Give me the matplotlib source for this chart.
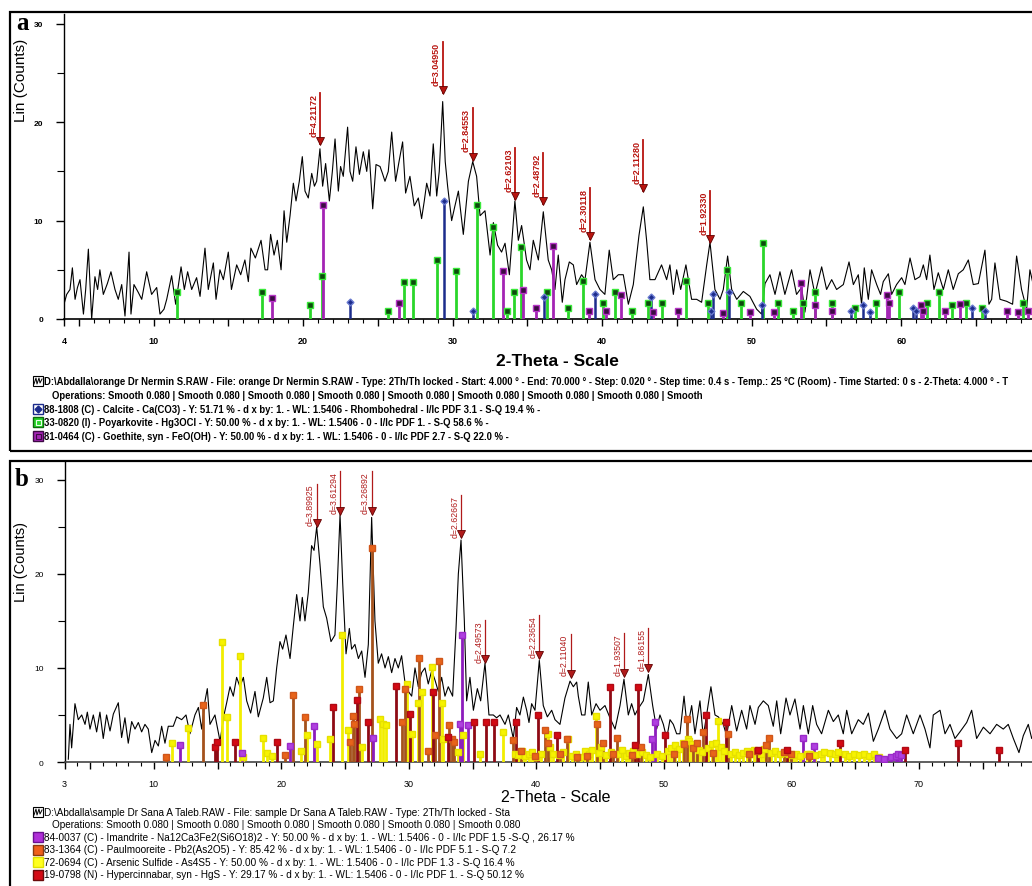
import matplotlib
matplotlib.use("Agg")
import matplotlib.pyplot as plt
from matplotlib.patches import Rectangle
from matplotlib.lines import Line2D
from matplotlib.ticker import FixedLocator, FixedFormatter, MultipleLocator

W, H = 1032, 887
plt.rcParams["font.family"] = ["Liberation Sans", "DejaVu Sans"]

# === panel a: measured pattern ===
a_tt = [4.0, 4.18, 4.4, 4.56, 4.74, 4.9, 5.07, 5.3, 5.45, 5.63, 5.85, 6.07, 6.25, 6.4, 6.63,
        6.9, 7.14, 7.41, 7.63, 7.86, 8.08, 8.35, 8.48, 8.68, 8.97, 9.2, 9.53, 9.86, 10.2, 10.42,
        10.69, 10.87, 11.2, 11.47, 11.83, 12.05, 12.27, 12.54, 12.87, 13.1, 13.43, 13.65, 13.99,
        14.17, 14.43, 14.66, 14.99, 15.2, 15.55, 15.82, 16.1, 16.33, 16.5, 16.8, 17.18, 17.45,
        17.62, 17.82, 18.05, 18.27, 18.52, 18.72, 18.9, 19.12, 19.34, 19.52, 19.74, 19.94, 20.12,
        20.34, 20.57, 20.75, 20.9, 21.12, 21.3, 21.5, 21.75, 21.95, 22.13, 22.35, 22.5, 22.68,
        22.97, 23.13, 23.31, 23.53, 23.76, 24.02, 24.25, 24.4, 24.65, 24.87, 25.14, 25.3, 25.47,
        25.69, 25.92, 26.18, 26.41, 26.65, 26.85, 27.14, 27.43, 27.7, 27.92, 28.1, 28.26, 28.48,
        28.7, 28.93, 29.1, 29.33, 29.5, 29.66, 29.93, 30.15, 30.38, 30.71, 31.05, 31.34, 31.6,
        31.83, 32.16, 32.5, 32.72, 33.0, 33.27, 33.5, 33.79, 34.16, 34.39, 34.61, 34.94, 35.17,
        35.39, 35.73, 36.06, 36.39, 36.62, 36.84, 37.06, 37.33, 37.51, 37.8, 38.07, 38.29, 38.62,
        38.85, 39.18, 39.52, 39.85, 40.18, 40.47, 40.74, 41.08, 41.41, 41.75, 42.08, 42.46, 42.75,
        42.97, 43.19, 43.53, 43.97, 44.31, 44.53, 44.76, 44.98, 45.25, 45.6, 45.98, 46.32, 46.65,
        46.99, 47.21, 47.54, 47.88, 48.1, 48.39, 48.66, 49.0, 49.44, 49.88, 50.33, 50.66, 50.89,
        51.22, 51.56, 51.89, 52.22, 52.67, 53.0, 53.34, 53.56, 53.9, 54.23, 54.68, 55.01, 55.35,
        55.68, 56.13, 56.51, 56.8, 57.13, 57.35, 57.53, 57.8, 58.02, 58.36, 58.62, 58.8, 59.14,
        59.36, 59.69, 60.03, 60.25, 60.59, 60.92, 61.25, 61.48, 61.7, 61.92, 62.19, 62.48, 62.82,
        63.15, 63.48, 63.82, 64.15, 64.49, 64.82, 65.16, 65.6, 65.87, 66.05, 66.27, 66.61, 67.05,
        67.45, 67.72, 68.05, 68.39, 68.61, 68.9]
a_counts = [1.5, 2.5, 3.0, 5.2, 2.0, 3.2, 4.0, 0.5, 3.0, 7.1, 0.0, 4.3, 3.0, 5.0, 2.5,
            3.6, 4.8, 3.0, 2.0, 3.5, 0.3, 6.8, 0.5, 3.5, 2.7, 2.0, 4.8, 2.5, 3.2, 0.5,
            1.0, 2.0, 4.4, 1.5, 5.3, 3.0, 4.8, 3.0, 4.2, 2.3, 7.2, 3.0, 5.7,
            2.0, 5.0, 4.0, 6.8, 3.0, 5.5, 4.5, 6.0, 3.8, 7.2, 6.2, 8.0, 5.0,
            5.0, 8.6, 6.5, 8.0, 5.0, 11.0, 7.8, 10.5, 13.8, 12.0, 14.0, 16.5, 13.0,
            12.3, 14.8, 13.5, 14.0, 17.3, 13.5, 15.8, 12.0, 15.0, 18.3, 13.0, 15.5, 14.5,
            19.5, 15.0, 14.0, 17.5, 14.7, 17.0, 15.0, 17.2, 11.2, 15.7, 15.5, 14.8, 14.0,
            15.0, 19.0, 14.0, 16.0, 18.0, 12.8, 14.5, 11.5, 12.3, 10.2, 12.0, 13.8, 12.5,
            17.8, 12.5, 15.0, 22.1, 16.0, 13.5, 10.0, 11.5, 13.0, 8.6, 14.0, 16.0, 14.5,
            10.5, 11.0, 6.5, 9.8, 7.5, 6.8, 7.7, 4.5, 12.0, 8.0, 9.5, 6.0, 5.0,
            8.0, 6.0, 10.9, 6.0, 5.0, 3.0, 6.5, 1.7, 4.0, 5.8, 5.5, 3.5, 4.5,
            4.0, 7.8, 4.0, 3.0, 2.5, 7.0, 4.0, 4.5, 4.5, 1.5, 3.5, 8.5, 11.4,
            8.0, 4.0, 4.0, 5.5, 4.0, 5.5, 2.5, 5.0, 3.0, 5.5, 2.0, 2.0, 1.7,
            5.5, 7.8, 3.0, 2.0, 3.0, 6.4, 3.0, 2.0, 2.8, 2.3, 1.0, 0.5, 3.6,
            4.5, 2.5, 4.8, 2.5, 5.0, 2.5, 3.2, 0.7, 5.0, 2.5, 5.3, 3.0, 4.0,
            3.0, 3.5, 5.8, 3.5, 4.5, 1.5, 5.2, 2.0, 5.0, 3.5, 2.5, 3.8, 4.6,
            2.5, 3.5, 4.2, 3.5, 6.2, 4.0, 4.3, 5.5, 4.0, 6.5, 3.0, 4.7, 3.0,
            5.0, 3.0, 4.6, 5.0, 6.0, 3.5, 3.6, 7.0, 1.5, 2.0, 5.7, 2.0, 1.8,
            1.5, 6.4, 3.0, 1.0, 5.0, 3.0]

# === panel a: reference sticks ===
calcite_tt = [23.13, 29.44, 31.38, 36.13, 39.52, 43.26, 47.27, 47.43, 48.48, 50.66, 56.64,
              57.46, 57.91, 60.76, 60.99, 64.76, 65.6]
calcite_h = [1.7, 12.0, 0.8, 2.2, 2.5, 2.2, 0.85, 2.5, 2.7, 1.4, 0.85,
             1.4, 0.7, 1.1, 0.85, 1.1, 0.85]
poyark_tt = [11.54, 17.22, 20.45, 21.24, 25.65, 26.74, 27.37, 28.93, 30.22, 31.65, 32.72,
             33.61, 34.12, 34.54, 36.28, 37.73, 38.74, 40.03, 40.85, 42.01, 43.08, 44.02,
             45.58, 47.1, 48.32, 49.26, 50.78, 51.78, 52.78, 53.45, 54.23, 55.35, 56.91,
             58.29, 59.87, 61.75, 62.53, 63.42, 64.33, 65.38, 68.17]
poyark_h = [2.7, 2.7, 1.4, 4.4, 0.85, 3.8, 3.8, 6.0, 4.9, 11.6, 9.4,
            0.85, 2.7, 7.3, 2.7, 1.1, 3.9, 1.6, 2.7, 0.85, 1.6, 1.6,
            3.9, 1.6, 5.0, 1.6, 7.7, 1.6, 0.8, 1.6, 2.7, 1.6, 1.1,
            1.6, 2.7, 1.6, 2.7, 1.4, 1.6, 1.1, 1.6]
goeth_tt = [17.89, 21.35, 26.41, 33.34, 34.72, 35.57, 36.68, 39.14, 40.23, 41.25, 43.37,
            45.09, 48.05, 49.88, 51.51, 53.3, 54.23, 55.35, 59.02, 59.18, 61.3, 61.48,
            62.93, 63.93, 67.1, 67.83, 68.5]
goeth_h = [2.1, 11.6, 1.6, 4.9, 2.9, 1.1, 7.4, 0.8, 0.85, 2.4, 0.7,
           0.8, 0.6, 0.7, 0.7, 3.7, 1.4, 0.8, 2.4, 1.6, 1.4, 0.85,
           0.8, 1.5, 0.85, 0.7, 0.85]

# === panel a: peak labels ===
a_pk_tt = [21.12, 29.33, 31.34, 34.16, 36.06, 39.18, 42.75, 47.21]
a_pk_tip = [17.8, 23.0, 16.2, 12.2, 11.7, 8.1, 13.0, 7.8]
a_pk_lab = ["d=4.21172", "d=3.04950", "d=2.84553", "d=2.62103", "d=2.48792",
            "d=2.30118", "d=2.11280", "d=1.92330"]

# === panel b: measured pattern ===
b_tt = [3.3, 3.43, 3.56, 3.82, 4.08, 4.35, 4.61, 4.79, 5.0, 5.26, 5.52, 5.78, 6.04, 6.3,
        6.57, 6.83, 7.22, 7.48, 7.74, 8.0, 8.27, 8.53, 8.79, 9.05, 9.31, 9.57, 9.84, 10.1,
        10.36, 10.62, 10.88, 11.14, 11.53, 11.8, 12.19, 12.53, 12.84, 13.23, 13.5, 13.76,
        14.02, 14.2, 14.41, 14.8, 15.2, 15.51, 15.72, 15.98, 16.24, 16.5, 16.76, 17.03,
        17.29, 17.6, 17.94, 18.2, 18.59, 18.86, 19.12, 19.38, 19.64, 19.9, 20.11, 20.37,
        20.69, 20.95, 21.21, 21.47, 21.65, 21.86, 22.12, 22.38, 22.57, 22.78, 23.04, 23.3,
        23.56, 23.9, 24.21, 24.4, 24.61, 24.82, 25.08, 25.34, 25.52, 25.78, 26.05, 26.31,
        26.57, 26.83, 27.09, 27.35, 27.61, 27.87, 28.14, 28.4, 28.66, 28.92, 29.18, 29.44,
        29.7, 29.97, 30.23, 30.49, 30.75, 31.01, 31.27, 31.53, 31.8, 32.06, 32.32, 32.58,
        32.84, 33.1, 33.44, 33.7, 33.89, 34.1, 34.36, 34.54, 34.8, 35.07, 35.38, 35.64,
        35.98, 36.29, 36.63, 36.89, 37.16, 37.55, 37.81, 38.2, 38.46, 38.72, 38.99, 39.25,
        39.43, 39.64, 39.9, 40.24, 40.55, 40.87, 41.21, 41.47, 41.86, 42.25, 42.65, 42.91,
        43.17, 43.3, 43.56, 43.82, 44.08, 44.35, 44.69, 45.0, 45.39, 45.78, 46.18, 46.57,
        46.88, 47.22, 47.48, 47.74, 48.01, 48.4, 48.79, 49.13, 49.44, 49.7, 49.97, 50.23,
        50.49, 50.75, 51.01, 51.27, 51.59, 51.85, 52.19, 52.45, 52.84, 53.1, 53.36, 53.7,
        54.02, 54.28, 54.67, 54.93, 55.33, 55.72, 56.11, 56.5, 56.76, 57.16, 57.42, 57.81,
        58.2, 58.59, 58.86, 59.17, 59.59, 59.9, 60.29, 60.69, 60.95, 61.34, 61.68, 61.99,
        62.38, 62.91, 63.3, 63.69, 64.08, 64.35, 64.74, 65.26, 65.65, 66.05, 66.44, 66.83,
        67.35, 67.74, 68.27, 68.66, 69.05, 69.57, 70.1, 70.49, 70.88, 71.14, 71.67, 72.06,
        72.45, 72.84, 73.23, 73.76, 74.15, 74.54, 75.07, 75.59, 76.11, 76.63, 77.02, 77.42,
        77.86, 78.2, 78.59, 78.86, 79.2]
b_counts = [0.3, 4.0, 1.5, 6.2, 4.5, 5.0, 4.0, 5.3, 3.5, 5.0, 3.2, 5.3, 2.5, 5.0,
            3.3, 5.1, 6.3, 2.6, 4.7, 2.0, 4.3, 3.5, 4.2, 3.2, 4.0, 3.5, 1.0, 2.3,
            1.7, 3.8, 2.0, 3.8, 3.8, 4.8, 4.5, 5.0, 3.0, 5.0, 5.8, 3.5,
            6.5, 7.8, 4.0, 5.0, 2.2, 5.0, 6.3, 8.0, 7.0, 9.0, 8.0, 9.0,
            6.5, 5.2, 7.5, 4.8, 6.8, 9.0, 6.3, 6.5, 10.0, 12.8, 12.0, 13.5,
            11.0, 14.5, 17.8, 15.0, 17.5, 15.0, 18.0, 23.0, 22.5, 25.0, 21.0, 16.5,
            15.3, 12.8, 13.5, 19.0, 26.3, 19.0, 11.5, 14.2, 12.0, 12.5, 11.0, 11.8,
            9.0, 12.5, 26.0, 15.0, 10.5, 11.5, 10.0, 11.2, 9.5, 11.0, 10.0, 11.3,
            8.5, 7.5, 7.0, 10.0, 8.0, 9.5, 10.0, 8.3, 9.7, 8.7, 7.5, 9.0,
            7.0, 8.0, 7.0, 14.0, 20.0, 23.6, 15.0, 6.5, 9.0, 5.5, 7.8, 6.5,
            10.5, 5.0, 5.0, 4.7, 5.0, 4.0, 5.0, 2.5, 5.8, 5.0, 6.9, 5.5,
            4.2, 6.2, 5.5, 10.8, 6.0, 4.8, 5.5, 4.5, 4.0, 6.8, 8.6, 8.0,
            8.5, 7.0, 5.0, 5.0, 8.5, 5.0, 6.2, 5.5, 6.0, 4.7, 3.5, 6.0,
            8.8, 5.0, 6.2, 5.0, 5.7, 6.5, 9.3, 6.0, 3.5, 5.0, 4.0, 2.5,
            4.5, 4.0, 3.0, 3.0, 7.0, 3.5, 6.0, 3.0, 6.5, 2.7, 5.0, 8.0,
            5.0, 4.8, 4.0, 2.8, 6.0, 3.3, 5.5, 3.5, 6.0, 4.0, 5.8, 6.5,
            6.0, 3.8, 6.5, 3.0, 6.8, 5.0, 6.7, 3.5, 6.0, 3.0, 6.0, 4.0,
            3.0, 5.5, 4.3, 5.0, 3.0, 5.5, 3.0, 4.5, 4.0, 5.2, 2.2, 3.5,
            5.5, 3.5, 2.5, 3.0, 5.0, 3.0, 5.0, 3.5, 1.5, 5.0, 5.5, 3.0,
            4.0, 2.5, 3.2, 4.2, 5.5, 2.5, 3.7, 3.0, 4.0, 3.5, 4.0, 2.5,
            1.0, 2.8, 4.0, 2.5, 3.5]

# === panel b: reference sticks ===
imand_tt = [12.06, 16.95, 20.69, 22.59, 27.22, 34.02, 34.2, 34.67, 49.05, 49.31, 60.89,
            61.81, 66.8, 67.3, 67.8, 68.2, 68.4, 68.6]
imand_h = [1.8, 1.0, 1.7, 3.8, 2.6, 4.0, 13.5, 3.9, 2.4, 4.3, 2.5,
           1.7, 0.4, 0.3, 0.5, 0.6, 0.8, 0.7]
paul_tt = [10.96, 13.84, 20.29, 20.95, 21.86, 25.39, 25.6, 25.73, 26.12, 27.09, 29.44,
           29.7, 30.83, 31.53, 32.06, 32.4, 33.18, 33.37, 33.55, 38.15, 38.8, 39.9, 40.69,
           40.9, 41.9, 42.45, 43.2, 44.0, 44.79, 45.26, 46.0, 46.3, 47.5, 48.2, 50.8, 51.6,
           51.8, 52.3, 52.6, 53.1, 53.9, 55.06, 56.7, 57.3, 58.0, 58.28, 59.4, 60.0, 61.4]
paul_h = [0.5, 6.1, 0.7, 7.1, 4.8, 2.1, 4.9, 4.0, 7.8, 22.7, 4.3,
          7.8, 11.1, 1.2, 2.9, 10.7, 3.9, 2.4, 2.1, 2.3, 1.2, 0.6, 3.4,
          2.0, 0.8, 2.4, 0.5, 0.6, 4.0, 2.0, 0.9, 2.5, 0.7, 1.6, 0.9, 1.9,
          4.6, 1.5, 2.0, 3.2, 1.0, 3.0, 0.9, 1.2, 1.8, 2.5, 1.1, 0.8, 0.6]
arsen_tt = [11.4, 12.71, 15.33, 15.72, 16.76, 17.0, 18.54, 18.86, 19.3, 21.52, 21.99,
            22.78, 23.82, 24.74, 25.26, 26.31, 27.74, 28.0, 28.21, 29.89, 30.28, 30.75,
            31.01, 31.8, 32.58, 32.71, 33.84, 34.28, 35.59, 37.37,
            38.3, 38.6, 38.9, 39.1, 39.4, 39.7, 40.0, 40.4, 40.95, 41.1, 41.3, 41.8, 42.1,
            42.52, 42.8, 43.1, 43.5, 43.8, 44.1, 44.4, 44.69, 44.9, 45.1, 45.5, 45.9, 46.4,
            46.7, 47.0, 47.3, 47.6, 47.9, 48.3, 48.6, 48.9, 49.5, 49.9, 50.3, 50.6, 50.9,
            51.2, 51.5, 51.93, 52.0, 52.2, 52.5, 52.8, 53.0, 53.5, 53.8, 54.1, 54.28, 54.5,
            54.7, 55.3, 55.6, 55.9, 56.2, 56.5, 56.8, 57.1, 57.6, 57.9, 58.4, 58.7, 59.1,
            59.4, 59.8, 60.1, 60.4, 60.7, 61.2, 61.5, 61.9, 62.3, 62.6, 63.0, 63.4, 63.7,
            64.2, 64.5, 64.9, 65.3, 65.7, 66.1, 66.5, 66.9]
arsen_h = [2.0, 3.6, 12.8, 4.8, 11.3, 0.5, 2.6, 1.0, 0.6, 1.2, 2.9,
           1.9, 2.4, 13.5, 3.4, 1.6, 4.6, 4.0, 3.9, 8.3, 3.0, 6.3,
           7.4, 10.1, 6.3, 2.4, 1.1, 2.9, 0.85, 3.2,
           0.9, 0.7, 1.2, 0.6, 0.8, 1.1, 0.5, 0.9, 3.0, 1.6, 0.8, 0.7, 1.1,
           2.4, 0.6, 0.9, 0.5, 1.2, 0.8, 1.3, 4.9, 1.0, 1.6, 0.7, 1.1, 0.9,
           1.3, 0.6, 1.0, 1.2, 0.8, 1.1, 0.7, 0.5, 0.8, 0.6, 1.2, 1.5, 1.8,
           1.4, 2.0, 2.4, 2.2, 1.9, 1.6, 1.3, 1.1, 1.5, 1.9, 2.0, 4.4, 1.6,
           1.2, 0.9, 1.1, 0.7, 1.0, 1.2, 0.8, 1.3, 0.9, 1.4, 1.0, 1.2, 0.8,
           1.0, 0.9, 0.7, 0.9, 0.6, 0.8, 0.9, 0.7, 0.9, 1.1, 1.0, 0.8, 1.1,
           0.8, 0.6, 0.9, 0.7, 0.8, 0.6, 0.8, 0.5]
hyper_tt = [14.8, 14.96, 16.37, 19.64, 24.08, 25.91, 26.83, 28.99, 30.1, 31.93, 33.1,
            35.12, 36.06, 36.71, 38.41, 40.16, 41.6, 45.78, 47.74, 48.0, 50.1, 53.31,
            54.88, 57.42, 59.64, 63.82, 68.92, 73.1, 76.32]
hyper_h = [1.6, 2.1, 2.1, 2.1, 5.8, 6.6, 4.3, 8.1, 5.1, 7.4, 2.7,
           4.3, 4.3, 4.3, 4.3, 5.0, 2.9, 8.0, 1.8, 8.0, 2.9, 5.0,
           4.3, 1.3, 1.3, 2.0, 1.3, 2.0, 1.3]

# === panel b: peak labels ===
b_pk_tt = [22.78, 24.61, 27.09, 34.1, 35.98, 40.24, 42.7, 46.88, 48.79]
b_pk_tip = [25.1, 26.4, 26.4, 23.9, 10.6, 11.1, 9.1, 9.2, 9.7]
b_pk_lab = ["d=3.89925", "d=3.61294", "d=3.26892", "d=2.62667", "d=2.49573",
            "d=2.23654", "d=2.11040", "d=1.93507", "d=1.86155"]

a_legend = [
    "D:\\Abdalla\\orange Dr Nermin S.RAW - File: orange Dr Nermin S.RAW - Type: 2Th/Th locked - Start: 4.000 ° - End: 70.000 ° - Step: 0.020 ° - Step time: 0.4 s - Temp.: 25 °C (Room) - Time Started: 0 s - 2-Theta: 4.000 ° - T",
    "Operations: Smooth 0.080 | Smooth 0.080 | Smooth 0.080 | Smooth 0.080 | Smooth 0.080 | Smooth 0.080 | Smooth 0.080 | Smooth 0.080 | Smooth",
    "88-1808 (C) - Calcite - Ca(CO3) - Y: 51.71 % - d x by: 1. - WL: 1.5406 - Rhombohedral - I/Ic PDF 3.1 - S-Q 19.4 % -",
    "33-0820 (I) - Poyarkovite - Hg3OCl - Y: 50.00 % - d x by: 1. - WL: 1.5406 - 0 - I/Ic PDF 1. - S-Q 58.6 % -",
    "81-0464 (C) - Goethite, syn - FeO(OH) - Y: 50.00 % - d x by: 1. - WL: 1.5406 - 0 - I/Ic PDF 2.7 - S-Q 22.0 % -",
]
b_legend = [
    "D:\\Abdalla\\sample Dr Sana A Taleb.RAW - File: sample Dr Sana A Taleb.RAW - Type: 2Th/Th locked - Sta",
    "Operations: Smooth 0.080 | Smooth 0.080 | Smooth 0.080 | Smooth 0.080 | Smooth 0.080 | Smooth 0.080",
    "84-0037 (C) - Imandrite - Na12Ca3Fe2(Si6O18)2 - Y: 50.00 % - d x by: 1. - WL: 1.5406 - 0 - I/Ic PDF 1.5 -S-Q , 26.17 %",
    "83-1364 (C) - Paulmooreite - Pb2(As2O5) - Y: 85.42 % - d x by: 1. - WL: 1.5406 - 0 - I/Ic PDF 5.1 - S-Q 7.2",
    "72-0694 (C) - Arsenic Sulfide - As4S5 - Y: 50.00 % - d x by: 1. - WL: 1.5406 - 0 - I/Ic PDF 1.3 - S-Q 16.4 %",
    "19-0798 (N) - Hypercinnabar, syn - HgS - Y: 29.17 % - d x by: 1. - WL: 1.5406 - 0 - I/Ic PDF 1. - S-Q 50.12 %",
]


def fx(x):
    return x / W


def fy(y):
    return 1 - y / H


fig = plt.figure(figsize=(W / 100, H / 100), dpi=100)

# panel frames
for top, bot in [(13, 452), (462, 890)]:
    fig.add_artist(Rectangle((fx(10), fy(bot)), fx(1040) - fx(10), fy(top) - fy(bot),
                             transform=fig.transFigure, fill=False, lw=1.6, ec="black"))


def setup_axis(ax, x0, x1, ytop, first, last_label, bold):
    ax.set_xlim(x0, x1)
    ax.set_ylim(0, ytop)
    for s in ["top", "right"]:
        ax.spines[s].set_visible(False)
    ax.spines["left"].set_linewidth(1.0)
    ax.spines["bottom"].set_linewidth(1.2)
    fives = list(range(5, int(x1) + 1, 5))
    major = [first] + fives
    labels = [str(first)] + [str(v) if (v % 10 == 0 and v <= last_label) else "" for v in fives]
    ax.xaxis.set_major_locator(FixedLocator(major))
    ax.xaxis.set_major_formatter(FixedFormatter(labels))
    ax.xaxis.set_minor_locator(MultipleLocator(1))
    ax.yaxis.set_major_locator(MultipleLocator(10))
    ax.yaxis.set_minor_locator(MultipleLocator(5))
    ax.tick_params(axis="x", which="major", length=5, width=1, pad=7, labelsize=6.5)
    ax.tick_params(axis="x", which="minor", length=3, width=0.8)
    ax.tick_params(axis="y", which="major", length=6, width=1, pad=9, labelsize=6)
    ax.tick_params(axis="y", which="minor", length=5, width=0.8)
    if bold:
        for t in ax.get_xticklabels() + ax.get_yticklabels():
            t.set_fontweight("bold")


def sticks(ax, tt, h, stem, face, edge, marker="s", ms=4.2, lw=2.0):
    ax.vlines(tt, 0, h, colors=stem, lw=lw, zorder=3)
    ax.plot(tt, h, ls="none", marker=marker, ms=ms, mfc=face, mec=edge, mew=1.0, zorder=4)


def peaks(ax, tt, tip, lab, color, fw, fs, lw, span):
    for x, y, s in zip(tt, tip, lab):
        ax.plot([x, x], [y, y + span], color=color, lw=lw, zorder=6)
        ax.plot([x], [y + 0.3], marker="v", ms=5.5, color=color, mec="#600000", mew=0.6, zorder=7)
        ax.annotate(s, xy=(x, y + span), xytext=(-1.2, 0), textcoords="offset points",
                    rotation=90, ha="right", va="top", fontsize=fs, color=color,
                    fontweight=fw, zorder=7)


# === panel a ===
axa = fig.add_axes([fx(64), fy(320), fx(64 + 66 * 14.95) - fx(64), fy(15) - fy(320)])
setup_axis(axa, 4, 70, 31.0, 4, 60, True)
axa.plot(a_tt, a_counts, color="black", lw=0.8, zorder=2)
sticks(axa, poyark_tt, poyark_h, "#2ad62a", "#0d4a0d", "#3ae83a")
sticks(axa, goeth_tt, goeth_h, "#a424b4", "#3d0a44", "#b636c6")
sticks(axa, calcite_tt, calcite_h, "#1c2c8c", "#1c2c8c", "#6a7ad0", marker="D", ms=3.5, lw=1.8)
peaks(axa, a_pk_tt, a_pk_tip, a_pk_lab, "#b8140f", "bold", 6.5, 1.3, 5.2)

# === panel b ===
axb = fig.add_axes([fx(64.5), fy(763), fx(64.5 + 77 * 12.75) - fx(64.5), fy(462) - fy(763)])
setup_axis(axb, 3, 80, 32.0, 3, 70, False)
axb.spines["bottom"].set_color("#444444")
axb.plot(b_tt, b_counts, color="black", lw=0.8, zorder=2)
sticks(axb, arsen_tt, arsen_h, "#f2ee00", "#f7f300", "#e6e000", lw=2.0)
sticks(axb, paul_tt, paul_h, "#a4521c", "#e8641a", "#d0561a", lw=2.0)
sticks(axb, imand_tt, imand_h, "#8c1cbc", "#b040e0", "#9a2ac8", lw=2.0)
sticks(axb, hyper_tt, hyper_h, "#8e0a14", "#d40a14", "#b00a14", lw=2.0)
peaks(axb, b_pk_tt, b_pk_tip, b_pk_lab, "#b01a1a", "normal", 6.3, 0.9, 4.5)

# === labels ===
fig.text(fx(16), fy(24), "a", fontsize=18, fontweight="bold", family="Liberation Serif",
         ha="left", va="center")
fig.text(fx(15), fy(480), "b", fontsize=18, fontweight="bold", family="Liberation Serif",
         ha="left", va="center")
fig.text(fx(21), fy(80), "Lin (Counts)", rotation=90, fontsize=11, ha="center", va="center")
fig.text(fx(21), fy(562), "Lin (Counts)", rotation=90, fontsize=10.5, ha="center", va="center")
fig.text(fx(557), fy(361), "2-Theta - Scale", fontsize=12.5, fontweight="bold", ha="center", va="center")
fig.text(fx(556), fy(798), "2-Theta - Scale", fontsize=11.5, ha="center", va="center")


def chart_icon(x, y):
    fig.add_artist(Rectangle((fx(x), fy(y + 5)), fx(10), fy(0) - fy(10),
                             transform=fig.transFigure, fill=False, lw=0.8, ec="black"))
    fig.add_artist(Line2D([fx(x + 1), fx(x + 3), fx(x + 4), fx(x + 6), fx(x + 7), fx(x + 9)],
                          [fy(y + 3), fy(y - 3), fy(y + 3), fy(y - 3), fy(y + 2), fy(y - 2)],
                          transform=fig.transFigure, lw=0.7, color="black"))


def box_icon(x, y, face, edge, inner=None, diamond=None):
    fig.add_artist(Rectangle((fx(x), fy(y + 5)), fx(10), fy(0) - fy(10),
                             transform=fig.transFigure, fc=face, lw=1.0, ec=edge))
    if inner:
        fig.add_artist(Rectangle((fx(x + 2.5), fy(y + 2.5)), fx(5), fy(0) - fy(5),
                                 transform=fig.transFigure, fill=False, lw=0.8, ec=inner))
    if diamond:
        fig.add_artist(Line2D([fx(x + 5)], [fy(y)], transform=fig.transFigure, marker="D",
                              ms=3.5, color=diamond, ls="none"))


a_rows = [382, 396, 410, 423, 437]
chart_icon(33, a_rows[0])
box_icon(33, a_rows[2], "white", "#1c2c8c", diamond="#1c2c8c")
box_icon(33, a_rows[3], "#2ad62a", "#0d6a0d", inner="#e8ffe8")
box_icon(33, a_rows[4], "#a424b4", "#3d0a44", inner="#3d0a44")
for i, (row, txt) in enumerate(zip(a_rows, a_legend)):
    fig.text(fx(52 if i == 1 else 44), fy(row), txt, fontsize=6.85, fontweight="bold",
             ha="left", va="center")

b_rows = [813, 825.5, 838, 850.5, 863, 875.5]
chart_icon(33, b_rows[0])
box_icon(33, b_rows[2], "#b030d8", "#6a1090")
box_icon(33, b_rows[3], "#f0601a", "#8a3a10")
box_icon(33, b_rows[4], "#ffff20", "#e0e000")
box_icon(33, b_rows[5], "#d40a14", "#6a0a0a")
for i, (row, txt) in enumerate(zip(b_rows, b_legend)):
    fig.text(fx(52 if i == 1 else 44), fy(row), txt, fontsize=7.2, ha="left", va="center")

fig.savefig("out.png", dpi=100)
